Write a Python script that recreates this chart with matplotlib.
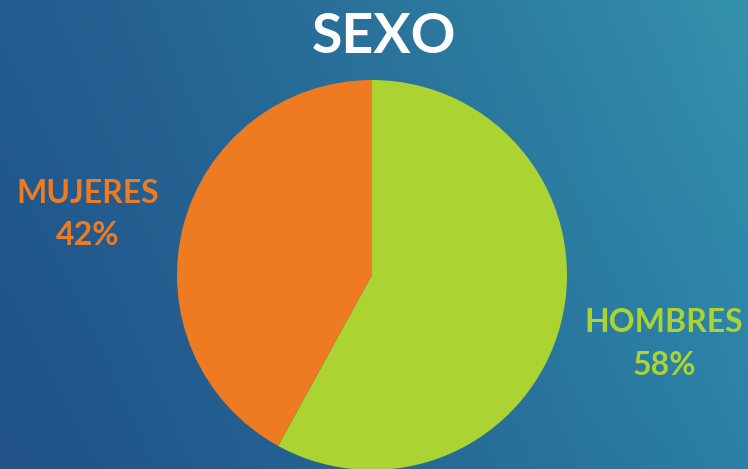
import numpy as np
import matplotlib
matplotlib.use("Agg")
import matplotlib.pyplot as plt
from matplotlib.colors import to_rgb

categories = ["HOMBRES", "MUJERES"]
values = [58, 42]
colors = ["#ABD433", "#EE7B22"]
title = "SEXO"

W, H = 748, 469
fig = plt.figure(figsize=(W / 100, H / 100), dpi=100)
ax = fig.add_axes([0, 0, 1, 1])

# background bilinear gradient from corner colours
tl, tr = np.array(to_rgb("#235C8F")), np.array(to_rgb("#3492AC"))
bl, br = np.array(to_rgb("#205288")), np.array(to_rgb("#2B80A7"))
yy, xx = np.mgrid[0:1:200j, 0:1:300j]
u = xx[..., None] ** 1.2
v = yy[..., None]  # 0 bottom, 1 top (origin lower)
img = (1 - u) * (1 - v) * bl + u * (1 - v) * br + (1 - u) * v * tl + u * v * tr
ax.imshow(img, extent=[0, W, 0, H], origin="lower", aspect="auto", zorder=0)

ax.pie(values, colors=colors, startangle=90, counterclock=False,
       radius=195, center=(372, 194), frame=True,
       wedgeprops=dict(linewidth=0))
ax.set_xlim(0, W)
ax.set_ylim(0, H)
ax.set_aspect("auto")
ax.axis("off")

font = "Lato"
ax.text(384, 432, title, color="white", fontsize=40, fontweight="bold",
        family=font, ha="center", va="center")
total = sum(values)
ax.text(88, 276, categories[1], color=colors[1], fontsize=23, fontweight="bold",
        family=font, ha="center", va="center")
ax.text(88, 234, f"{round(values[1] / total * 100)}%", color=colors[1], fontsize=23,
        fontweight="bold", family=font, ha="center", va="center")
ax.text(664, 147, categories[0], color=colors[0], fontsize=23, fontweight="bold",
        family=font, ha="center", va="center")
ax.text(664, 104, f"{round(values[0] / total * 100)}%", color=colors[0], fontsize=23,
        fontweight="bold", family=font, ha="center", va="center")

fig.savefig("out.png", dpi=100)
